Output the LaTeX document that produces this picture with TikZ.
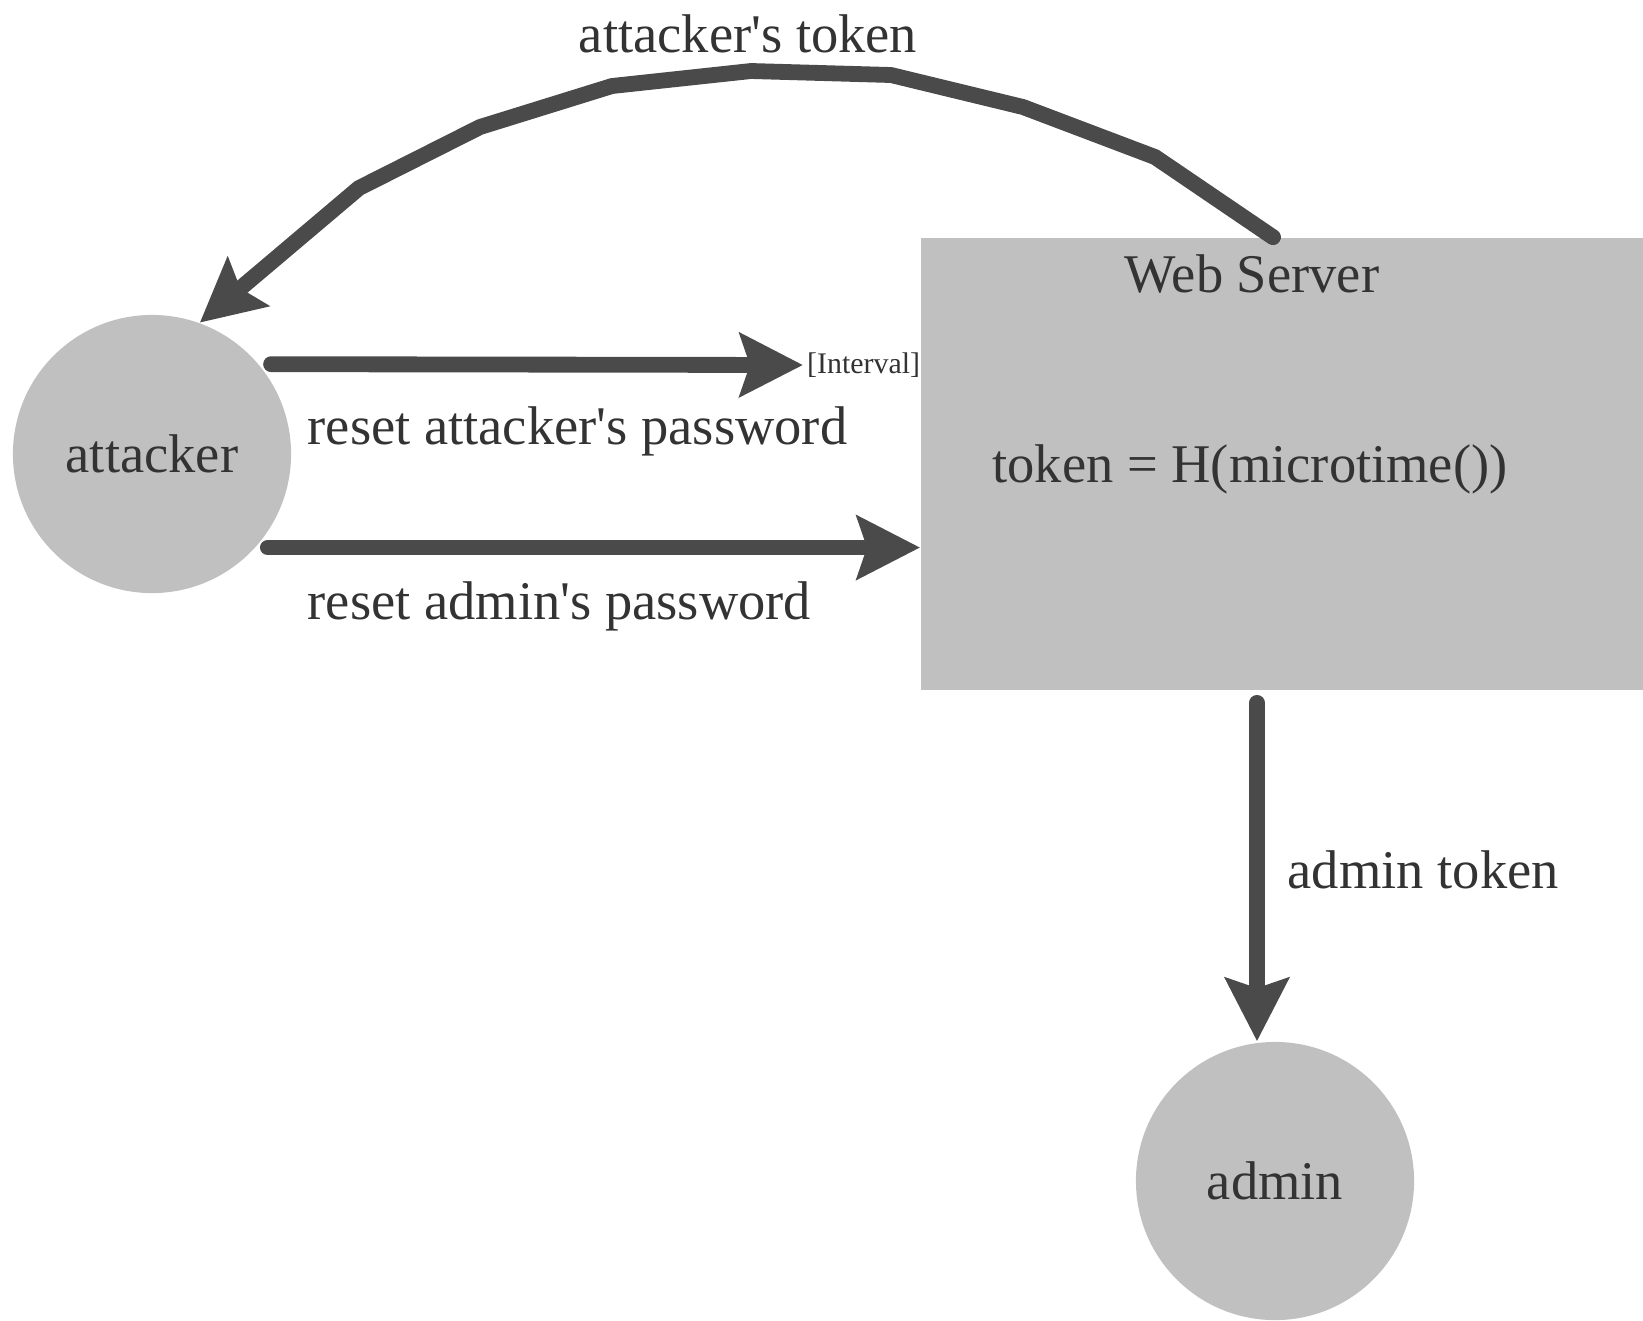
\documentclass[tikz,border=0pt]{standalone}
\usepackage{fontspec}
\setmainfont{Liberation Serif}
\usetikzlibrary{arrows.meta,positioning}
\definecolor{nodegray} {RGB}{192,192,192}
\definecolor{inkgray}  {RGB}{ 51, 51, 51}
\definecolor{arrowgray}{RGB}{ 74, 74, 74}

\begin{document}
\begin{tikzpicture}[
      x=0.01cm, y=-0.01cm,
      font=\fontsize{15.5}{18}\selectfont, text=inkgray,
      actor/.style={circle, fill=nodegray, minimum size=2.78cm, inner sep=0pt},
      sbox/.style={rectangle, fill=nodegray, minimum width=7.22cm,
                   minimum height=4.52cm, inner sep=0pt},
      lbl/.style={inner sep=0pt},
      arr/.style={-{Stealth[length=0.63cm, width=0.63cm, inset=0.1cm]},
                  line width=4.5pt, arrowgray, line cap=round, line join=round},
    ]
      \useasboundingbox (0,0) rectangle (1643,1320);

      % Actors
      \node[actor] (att) at ( 152, 454) {attacker};
      \node[actor] (adm) at (1275,1181) {admin};

      % Server
      \node[sbox] (ws)     at (1282, 464) {};
      \node[lbl]  (wsname) at (1252, 274) {Web Server};
      \node[lbl]  (tok)    at (1250, 469) {token = H(microtime())};

      % Labels
      \node[lbl] (lbltok) at (748, 34) {attacker\textquotesingle s token};
      \node[lbl, inner sep=1pt, anchor=west, font=\fontsize{8.5}{10}\selectfont]
            (ivl) at (803, 365) {[Interval]};
      \node[lbl, anchor=west] (lblatt) at ( 307, 431)
            {reset attacker\textquotesingle s password};
      \node[lbl, anchor=west] (lbladm) at ( 307, 606)
            {reset admin\textquotesingle s password};
      \node[lbl, anchor=west] (lbladt) at (1287, 870) {admin token};

      % Arrows
      \draw[arr] ([xshift=-0.09cm]ws.north) -- (1155,157) -- (1023,107)
            -- (891,75) -- (751,71) -- (612,86) -- (480,127) -- (359,188)
            -- (att.70);
      \draw[arr, shorten <=0.12cm] (att.40) -- (ivl.west);
      \draw[arr, shorten <=0.12cm] (att.-42) -- (att.-42 -| ws.west);
      \draw[arr, shorten <=0.12cm] ([xshift=-0.18cm]ws.south -| adm.north)
            -- ([xshift=-0.18cm]adm.north);
    \end{tikzpicture}
\end{document}
